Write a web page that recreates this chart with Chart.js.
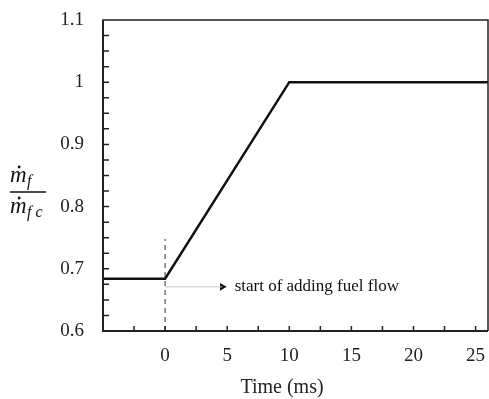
<!DOCTYPE html>
<html>
<head>
<meta charset="utf-8">
<script src="https://cdn.jsdelivr.net/npm/chart.js@4/dist/chart.umd.min.js"></script>
<style>
html,body{margin:0;padding:0;background:#fff;}
#c{display:block;}
</style>
</head>
<body>
<canvas id="c" width="489" height="399"></canvas>
<script>
// ---- data ----
const flowTime  = [-5, 0, 10, 26];          // ms
const flowRatio = [0.684, 0.684, 1.0, 1.0]; // m_f / m_fc
const markerTime  = [0, 0];
const markerRatio = [0.6, 0.748];
const arrowTime  = [0, 4.6];
const arrowRatio = [0.671, 0.671];
const annotationText = 'start of adding fuel flow';
const annotationAt = [5.6, 0.671];
const xTickValues = [0, 5, 10, 15, 20, 25];
const yTickValues = [0.6, 0.7, 0.8, 0.9, 1.0, 1.1];
const yTickLabels = ['0.6', '0.7', '0.8', '0.9', '1', '1.1'];
const xMinorTicks = [-2.5, 0, 2.5, 5, 7.5, 10, 12.5, 15, 17.5, 20, 22.5, 25];
const yMinorTicks = [0.625, 0.65, 0.675, 0.7, 0.725, 0.75, 0.775, 0.8, 0.825, 0.85, 0.875, 0.9, 0.925, 0.95, 0.975, 1.0, 1.025, 1.05, 1.075];
const xTitle = 'Time (ms)';

const toPts = (xs, ys) => xs.map((x, i) => ({x: x, y: ys[i]}));
const SERIF = '"Liberation Serif", "Times New Roman", serif';
const zeroPad = s => { s.paddingLeft = 0; s.paddingRight = 0; s.paddingTop = 0; s.paddingBottom = 0; };

const decor = {
  id: 'decor',
  afterDraw(chart) {
    const ctx = chart.ctx, a = chart.chartArea;
    const xs = chart.scales.x, ys = chart.scales.y;
    ctx.save();
    // box
    ctx.strokeStyle = '#222';
    ctx.lineWidth = 1.5;
    ctx.beginPath();
    ctx.moveTo(a.left, a.top); ctx.lineTo(a.right, a.top); ctx.lineTo(a.right, a.bottom);
    ctx.stroke();
    ctx.lineWidth = 2;
    ctx.beginPath();
    ctx.moveTo(a.left, a.top - 0.5); ctx.lineTo(a.left, a.bottom); ctx.lineTo(a.right, a.bottom);
    ctx.stroke();
    // inward ticks
    ctx.lineWidth = 1.5;
    ctx.beginPath();
    yMinorTicks.forEach(v => { const p = ys.getPixelForValue(v); ctx.moveTo(a.left, p); ctx.lineTo(a.left + 6, p); });
    xMinorTicks.forEach(v => { const p = xs.getPixelForValue(v); ctx.moveTo(p, a.bottom); ctx.lineTo(p, a.bottom - 5); });
    ctx.stroke();
    // annotation text
    ctx.fillStyle = '#111';
    ctx.font = '17px ' + SERIF;
    ctx.textBaseline = 'middle';
    ctx.textAlign = 'left';
    ctx.fillText(annotationText, xs.getPixelForValue(annotationAt[0]), ys.getPixelForValue(annotationAt[1]));
    // x title
    ctx.font = '20px ' + SERIF;
    ctx.textAlign = 'center';
    ctx.textBaseline = 'alphabetic';
    ctx.fillStyle = '#222';
    ctx.fillText(xTitle, 282, 393);
    // y title: fraction m_f / m_fc
    ctx.strokeStyle = '#111';
    ctx.lineWidth = 1.5;
    ctx.beginPath(); ctx.moveTo(10, 192); ctx.lineTo(46, 192); ctx.stroke();
    function mdot(x, base, sub) {
      ctx.font = 'italic 23px ' + SERIF;
      ctx.textAlign = 'left';
      ctx.fillText('m', x, base);
      const mw = ctx.measureText('m').width;
      ctx.beginPath(); ctx.arc(x + mw * 0.55, base - 15, 1.4, 0, Math.PI * 2); ctx.fill();
      ctx.font = 'italic 16px ' + SERIF;
      ctx.fillText(sub, x + mw + 0.5, base + 4);
    }
    ctx.fillStyle = '#111';
    mdot(10, 182, 'f');
    mdot(10, 213, 'f c');
    ctx.restore();
  }
};

new Chart(document.getElementById('c'), {
  type: 'scatter',
  data: {
    datasets: [
      { data: toPts(flowTime, flowRatio), showLine: true, borderColor: '#111', borderWidth: 2.5, pointRadius: 0, tension: 0 },
      { data: toPts(markerTime, markerRatio), showLine: true, borderColor: '#333', borderWidth: 1, borderDash: [5, 4], pointRadius: 0 },
      { data: toPts(arrowTime, arrowRatio), showLine: true, borderColor: '#c8c8c8', borderWidth: 1, pointRadius: 0 },
      { data: [toPts(arrowTime, arrowRatio)[1]], showLine: false, pointStyle: 'triangle', pointRotation: 90, pointRadius: 4.5,
        backgroundColor: '#111', borderColor: '#111', borderWidth: 0 }
    ]
  },
  options: {
    responsive: false,
    animation: false,
    devicePixelRatio: 1,
    layout: { autoPadding: false, padding: { top: 20, right: 1, left: 0, bottom: 0 } },
    plugins: { legend: { display: false }, tooltip: { enabled: false } },
    scales: {
      x: {
        type: 'linear', min: -5, max: 26,
        grid: { display: false, drawTicks: false },
        border: { display: false },
        afterBuildTicks: s => { s.ticks = xTickValues.map(v => ({value: v})); },
        afterFit: s => { s.height = 68; zeroPad(s); },
        ticks: { color: '#222', font: { family: SERIF, size: 19 }, padding: 14, maxRotation: 0,
                 callback: v => String(v) }
      },
      y: {
        type: 'linear', min: 0.6, max: 1.1,
        grid: { display: false, drawTicks: false },
        border: { display: false },
        afterBuildTicks: s => { s.ticks = yTickValues.map(v => ({value: v})); },
        afterFit: s => { s.width = 103; zeroPad(s); },
        ticks: { color: '#222', font: { family: SERIF, size: 19 }, padding: 19,
                 callback: (v, i) => yTickLabels[i] }
      }
    }
  },
  plugins: [decor]
});
</script>
</body>
</html>
